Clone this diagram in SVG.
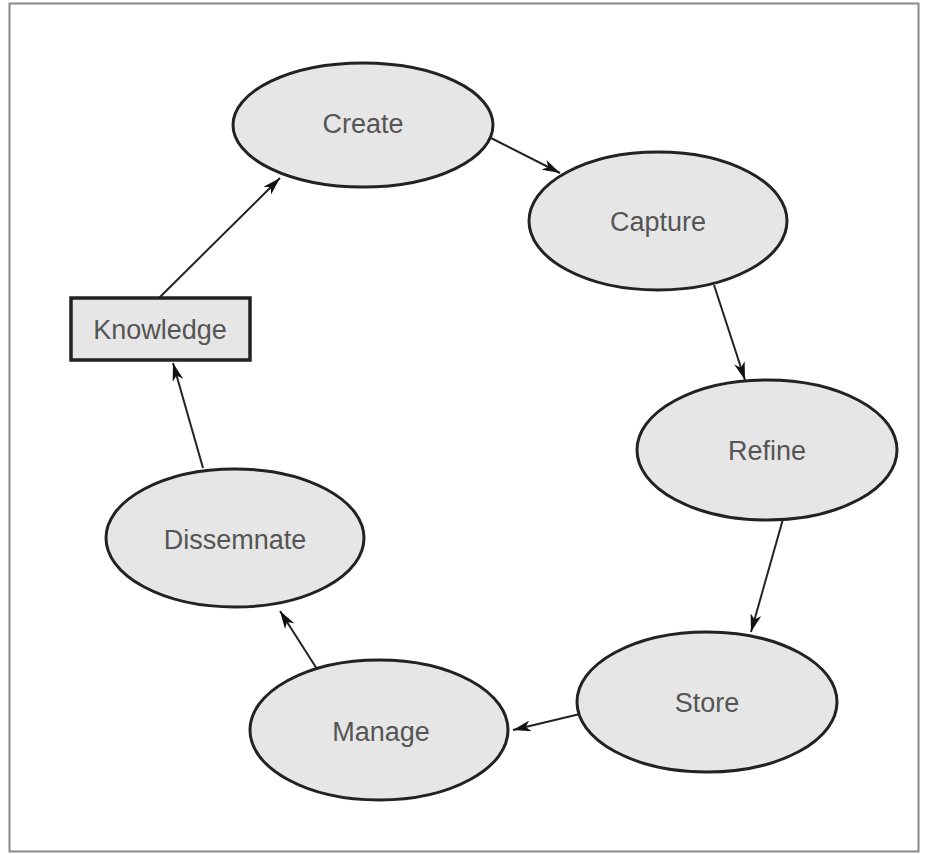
<svg xmlns="http://www.w3.org/2000/svg" width="925" height="854" viewBox="0 0 925 854">
<style>
.node ellipse{fill:#e6e6e6;stroke:#222;stroke-width:3}
.node rect{fill:#e6e6e6;stroke:#222;stroke-width:3.5}
.node text{font-family:"Liberation Sans",Arial,sans-serif;font-size:27px;fill:#555;text-anchor:middle;dominant-baseline:central}
.edges line{stroke:#222;stroke-width:2;marker-end:url(#ah)}
</style>
<defs>
<marker id="ah" viewBox="0 0 18 11" refX="18" refY="5.5" markerWidth="18" markerHeight="11" markerUnits="userSpaceOnUse" orient="auto">
<path d="M0,0 L18,5.5 L0,11 L5,5.5 Z" fill="#111"/>
</marker>
</defs>
<rect x="9.5" y="3.5" width="909" height="848" fill="#fff" stroke="#888" stroke-width="2"/>
<g class="edges">
<line x1="491" y1="138" x2="560" y2="173"/>
<line x1="714" y1="285" x2="745" y2="380"/>
<line x1="783" y1="519" x2="751" y2="632"/>
<line x1="580" y1="714" x2="513" y2="730"/>
<line x1="317" y1="669" x2="280" y2="611"/>
<line x1="203" y1="468" x2="173" y2="363"/>
<line x1="159" y1="298" x2="280" y2="178"/>
</g>
<g id="create" class="node"><ellipse cx="363" cy="125" rx="130" ry="62"/><text x="363" y="124">Create</text></g>
<g id="capture" class="node"><ellipse cx="658" cy="221" rx="129" ry="69"/><text x="658" y="222">Capture</text></g>
<g id="refine" class="node"><ellipse cx="767" cy="450" rx="130" ry="70"/><text x="767" y="451">Refine</text></g>
<g id="store" class="node"><ellipse cx="707" cy="702" rx="130" ry="70"/><text x="707" y="703">Store</text></g>
<g id="manage" class="node"><ellipse cx="379" cy="730" rx="129" ry="70"/><text x="381" y="732">Manage</text></g>
<g id="dissemnate" class="node"><ellipse cx="235" cy="538" rx="129" ry="69"/><text x="235" y="540">Dissemnate</text></g>
<g id="knowledge" class="node"><rect x="71" y="298" width="179" height="62"/><text x="160" y="330">Knowledge</text></g>
</svg>
